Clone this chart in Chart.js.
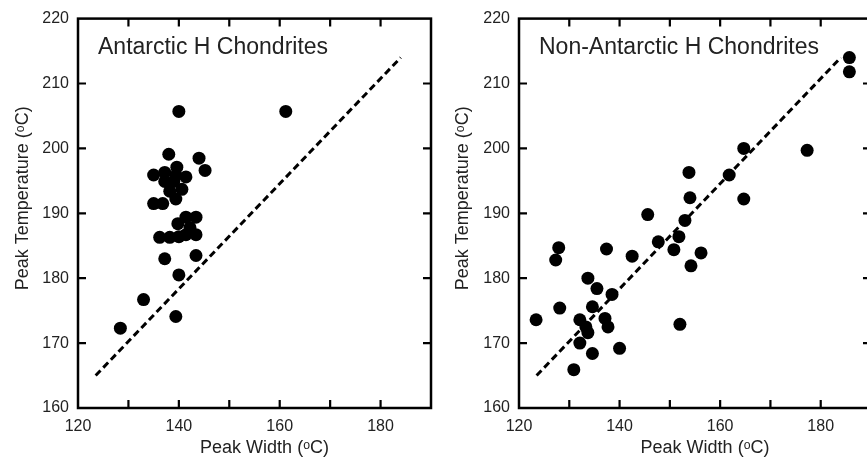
<!DOCTYPE html>
<html lang="en">
<head>
  <meta charset="UTF-8" />
  <title>Peak Temperature vs Peak Width - H Chondrites</title>
  <script src="https://cdn.jsdelivr.net/npm/chart.js"></script>
  <style>
    html, body { margin: 0; padding: 0; background: #fff; overflow: hidden; }
    body { width: 867px; height: 459px; position: relative; }
    .panel { position: absolute; top: 0; width: 440px; height: 459px; }
    #left { left: 0; }
    #right { left: 440px; }
  </style>
</head>
<body>
  <div class="panel" id="left"><canvas id="antChart"></canvas></div>
  <div class="panel" id="right"><canvas id="nonChart"></canvas></div>
  <script>
    // Antarctic H chondrites
    const antWidth = [140, 161.2, 138, 144, 145.2, 135, 137.2, 139.6, 139.4, 137.2, 139, 141.4, 138.2, 140.6, 139.4, 135, 136.8,
      141.4, 143.4, 139.8, 142.2, 136.2, 138.2, 140, 141.4, 143.4, 137.2, 143.4, 140, 133, 128.4, 139.4];
    const antTemp = [205.7, 205.7, 199.1, 198.5, 196.6, 195.9, 196.3, 197.1, 195.8, 194.9, 194.9, 195.6, 193.4, 193.7, 192.2, 191.5, 191.5,
      189.4, 189.4, 188.4, 187.8, 186.3, 186.3, 186.4, 186.7, 186.7, 183.0, 183.5, 180.5, 176.7, 172.3, 174.1];

    // Non-Antarctic H chondrites
    const nonWidth = [185.7, 185.7, 164.7, 177.3, 153.8, 161.8, 154, 164.7, 145.6, 153, 127.9, 127.3, 137.4, 142.5, 147.7, 151.8, 150.8, 156.2,
      154.2, 133.7, 135.5, 138.5, 128.1, 134.6, 123.4, 132.1, 137.1, 137.7, 133.3, 133.7, 152, 132.1, 134.6, 140, 130.9];
    const nonTemp = [214.0, 211.8, 200, 199.7, 196.3, 195.9, 192.4, 192.2, 189.8, 188.9, 184.7, 182.8, 184.5, 183.4, 185.6, 186.4, 184.4, 183.9,
      181.9, 180, 178.4, 177.5, 175.4, 175.6, 173.6, 173.6, 173.8, 172.5, 172.5, 171.6, 172.9, 170, 168.4, 169.2, 165.9];

    // dashed reference line (same in both panels)
    const lineWidth = [123.5, 184];
    const lineTemp = [165, 214];

    const xTickLabels = [120, 140, 160, 180];
    const yTickLabels = [160, 170, 180, 190, 200, 210, 220];
    const xRange = [120, 190];
    const yRange = [160, 220];

    const FONT = "'Liberation Sans', Arial, sans-serif";
    const TEXT = '#222';

    // frame + inward tick marks + panel label
    const framePlugin = {
      id: 'frame',
      afterDraw(chart, args, opts) {
        const { ctx, chartArea: a, scales } = chart;
        const len = 8;
        ctx.save();
        ctx.strokeStyle = '#000';
        ctx.lineWidth = 2.5;
        ctx.strokeRect(a.left, a.top, a.right - a.left, a.bottom - a.top);
        ctx.lineWidth = 2.2;
        ctx.beginPath();
        scales.x.ticks.forEach(t => {
          if (t.value <= xRange[0] || t.value >= xRange[1]) return;
          const px = scales.x.getPixelForValue(t.value);
          ctx.moveTo(px, a.bottom); ctx.lineTo(px, a.bottom - len);
          ctx.moveTo(px, a.top); ctx.lineTo(px, a.top + len);
        });
        scales.y.ticks.forEach(t => {
          if (t.value <= yRange[0] || t.value >= yRange[1]) return;
          const py = scales.y.getPixelForValue(t.value);
          ctx.moveTo(a.left, py); ctx.lineTo(a.left + len, py);
          ctx.moveTo(a.right, py); ctx.lineTo(a.right - len, py);
        });
        ctx.stroke();
        ctx.fillStyle = TEXT;
        ctx.font = '23px ' + FONT;
        ctx.textBaseline = 'alphabetic';
        ctx.fillText(opts.label, a.left + 20, a.top + 35);
        ctx.restore();
      }
    };

    const makeChart = (id, label, xs, ys, yAxisWidth, padRight) => {
      const pts = xs.map((x, i) => ({ x, y: ys[i] }));
      const fit = lineWidth.map((x, i) => ({ x, y: lineTemp[i] }));
      return new Chart(document.getElementById(id), {
        type: 'scatter',
        data: {
          datasets: [
            {
              data: pts,
              backgroundColor: '#000',
              borderColor: '#000',
              pointRadius: 6.5,
              pointHoverRadius: 6.5,
              borderWidth: 0
            },
            {
              type: 'line',
              data: fit,
              borderColor: '#000',
              borderWidth: 3,
              borderDash: [7, 4],
              pointRadius: 0,
              fill: false
            }
          ]
        },
        options: {
          responsive: true,
          maintainAspectRatio: false,
          animation: false,
          layout: { padding: { top: 18, right: padRight, bottom: 0, left: 0 } },
          plugins: {
            legend: { display: false },
            tooltip: { enabled: false },
            frame: { label }
          },
          scales: {
            x: {
              type: 'linear',
              min: xRange[0],
              max: xRange[1],
              border: { display: false },
              grid: { display: false, drawTicks: false },
              ticks: {
                stepSize: 10,
                padding: 9,
                color: TEXT,
                font: { family: FONT, size: 16 },
                maxRotation: 0,
                callback: v => xTickLabels.includes(v) ? String(v) : ''
              },
              title: {
                display: true,
                text: '    Peak Width (\u1D52C)',
                color: TEXT,
                font: { family: FONT, size: 18 },
                padding: { top: 0, bottom: 0 }
              },
              afterFit: s => { s.height = 51; }
            },
            y: {
              type: 'linear',
              min: yRange[0],
              max: yRange[1],
              border: { display: false },
              grid: { display: false, drawTicks: false },
              ticks: {
                stepSize: 10,
                padding: 9,
                color: TEXT,
                font: { family: FONT, size: 16 },
                callback: v => yTickLabels.includes(v) ? String(v) : ''
              },
              title: {
                display: true,
                text: '      Peak Temperature (\u1D52C)',
                color: TEXT,
                font: { family: FONT, size: 18 },
                padding: { top: 12, bottom: 0 }
              },
              afterFit: s => { s.width = yAxisWidth; }
            }
          }
        },
        plugins: [framePlugin]
      });
    };

    makeChart('antChart', 'Antarctic H Chondrites', antWidth, antTemp, 78, 3);
    makeChart('nonChart', 'Non-Antarctic H Chondrites', nonWidth, nonTemp, 79, 6);
  </script>
</body>
</html>
